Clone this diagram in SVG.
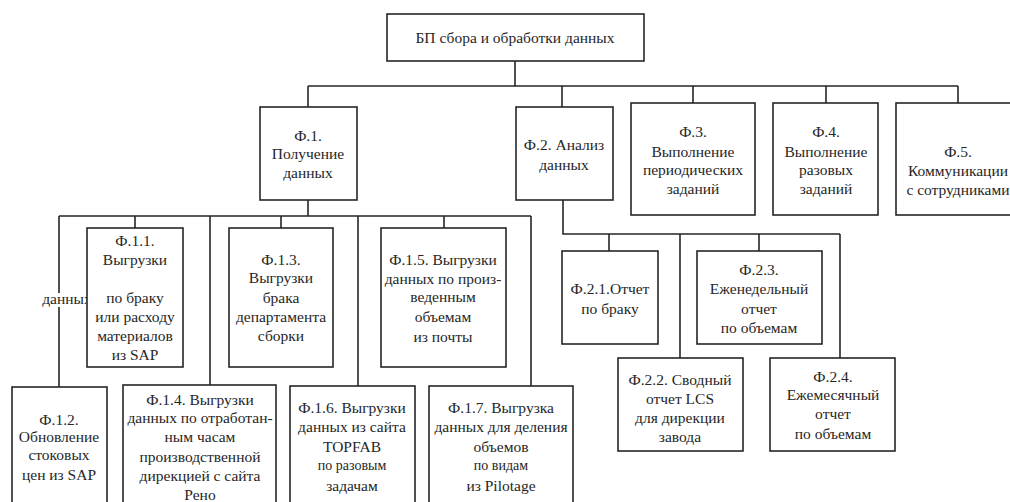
<svg xmlns="http://www.w3.org/2000/svg" width="1010" height="502" viewBox="0 0 1010 502">
<style>
.b{fill:#fff;stroke:#262626;stroke-width:1.6}
.c{fill:none;stroke:#262626;stroke-width:1.6}
text{font-family:"Times New Roman","Liberation Serif","DejaVu Serif",serif;font-size:15.5px;fill:#262626;text-anchor:middle}
.s{font-size:14px}
</style>
<rect width="1010" height="502" fill="#fff"/>
<g id="connectors">
<path class="c" d="M515,61V86M308,86H958M308,86V107M562,86V107M693,86V103M826,86V103M958,86V103"/>
<path class="c" d="M308,200V216M59,216H531M59,216V387M135,216V228M210,216V385M281,216V228M358,216V386M444,216V228M531,216V386"/>
<path class="c" d="M563,200V234H840M609,234V251M680,234V358M759,234V251M840,234V358"/>
</g>
<g id="root"><rect class="b" x="387" y="14" width="257" height="47"/><text x="515" y="43">БП сбора и обработки данных</text></g>
<g id="f1"><rect class="b" x="260" y="107" width="97" height="93"/><text x="308" y="141">Ф.1.</text><text x="308" y="159">Получение</text><text x="308" y="178">данных</text></g>
<g id="f2"><rect class="b" x="516" y="107" width="97" height="93"/><text x="564" y="150">Ф.2. Анализ</text><text x="564" y="170">данных</text></g>
<g id="f3"><rect class="b" x="631" y="103" width="124" height="112"/><text x="693" y="137">Ф.3.</text><text x="693" y="157">Выполнение</text><text x="693" y="175">периодических</text><text x="693" y="194">заданий</text></g>
<g id="f4"><rect class="b" x="773" y="103" width="105" height="112"/><text x="826" y="137">Ф.4.</text><text x="826" y="157">Выполнение</text><text x="826" y="175">разовых</text><text x="826" y="194">заданий</text></g>
<g id="f5"><rect class="b" x="896" y="103" width="124" height="112"/><text x="958" y="157">Ф.5.</text><text x="958" y="176">Коммуникации</text><text x="958" y="195">с сотрудниками</text></g>
<g id="label-dannyh"><rect x="43" y="293" width="48" height="14" fill="#fff"/><text x="67" y="304">данных</text></g>
<g id="f11"><rect class="b" x="87" y="228" width="96" height="139"/><text x="135" y="246">Ф.1.1.</text><text x="135" y="265">Выгрузки</text><text x="135" y="303">по браку</text><text x="135" y="322">или расходу</text><text x="135" y="341">материалов</text><text x="135" y="360">из SAP</text></g>
<g id="f13"><rect class="b" x="229" y="228" width="104" height="139"/><text x="281" y="265">Ф.1.3.</text><text x="281" y="283">Выгрузки</text><text x="281" y="303">брака</text><text x="281" y="322">департамента</text><text x="281" y="341">сборки</text></g>
<g id="f15"><rect class="b" x="381" y="228" width="125" height="139"/><text x="443" y="265">Ф.1.5. Выгрузки</text><text x="443" y="284">данных по произ-</text><text x="443" y="302">веденным</text><text x="443" y="322">объемам</text><text x="443" y="342">из почты</text></g>
<g id="f12"><rect class="b" x="12" y="387" width="95" height="125"/><text x="59" y="425">Ф.1.2.</text><text x="59" y="442">Обновление</text><text x="59" y="460">стоковых</text><text x="59" y="480">цен из SAP</text></g>
<g id="f14"><rect class="b" x="123" y="385" width="153" height="127"/><text x="200" y="405">Ф.1.4. Выгрузки</text><text x="200" y="423">данных по отработан-</text><text x="200" y="442">ным часам</text><text x="200" y="462">производственной</text><text x="200" y="481">дирекцией с сайта</text><text x="200" y="500">Рено</text></g>
<g id="f16"><rect class="b" x="290" y="386" width="125" height="126"/><text x="352" y="413">Ф.1.6. Выгрузки</text><text x="352" y="432">данных из сайта</text><text x="352" y="452">TOPFAB</text><text x="352" y="470" class="s">по разовым</text><text x="352" y="491">задачам</text></g>
<g id="f17"><rect class="b" x="429" y="386" width="144" height="126"/><text x="501" y="413">Ф.1.7. Выгрузка</text><text x="501" y="432">данных для деления</text><text x="501" y="452">объемов</text><text x="501" y="470" class="s">по видам</text><text x="501" y="491">из Pilotage</text></g>
<g id="f21"><rect class="b" x="562" y="251" width="96" height="93"/><text x="610" y="294">Ф.2.1.Отчет</text><text x="610" y="314">по браку</text></g>
<g id="f23"><rect class="b" x="697" y="251" width="125" height="93"/><text x="759" y="275">Ф.2.3.</text><text x="759" y="294">Еженедельный</text><text x="759" y="314">отчет</text><text x="759" y="333">по объемам</text></g>
<g id="f22"><rect class="b" x="618" y="358" width="125" height="93"/><text x="680" y="385">Ф.2.2. Сводный</text><text x="680" y="404">отчет LCS</text><text x="680" y="423">для дирекции</text><text x="680" y="442">завода</text></g>
<g id="f24"><rect class="b" x="770" y="358" width="125" height="93"/><text x="833" y="382">Ф.2.4.</text><text x="833" y="400">Ежемесячный</text><text x="833" y="419">отчет</text><text x="833" y="439">по объемам</text></g>
</svg>
